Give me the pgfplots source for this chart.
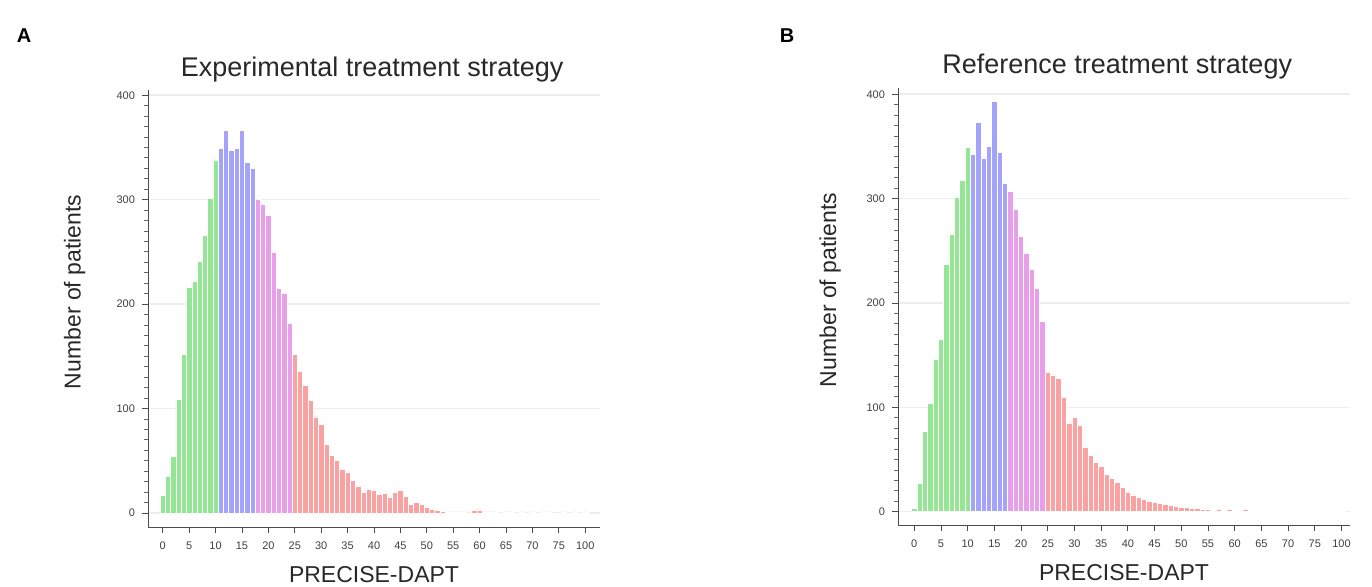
\documentclass[border=0pt]{standalone}
\usepackage{pgfplots}
\pgfplotsset{compat=1.18}
\usepackage{fontspec}
\setmainfont{Liberation Sans}

\definecolor{cgreen}{RGB}{148,230,148}
\definecolor{cblue}{RGB}{163,163,250}
\definecolor{cpink}{RGB}{232,158,232}
\definecolor{cred}{RGB}{250,162,162}
\definecolor{txt}{RGB}{40,40,40}

\pgfplotsset{
  hbar/.style={ybar, bar width=1, bar shift=0pt, draw=white, line width=0.3pt, fill=#1},
  panel/.style={
    scale only axis, width=226pt, height=218.5pt, anchor=south west,
    axis lines=left, axis line style={-, draw=black!70, line width=0.5pt},
    tick align=outside, major tick length=3pt, minor tick length=2pt,
    tick style={draw=black!70, line width=0.4pt},
    minor tick style={draw=black!60, line width=0.4pt},
    xtick={0,5,...,80},
    xticklabels={0,5,10,15,20,25,30,35,40,45,50,55,60,65,70,75,100},
    ytick={0,100,...,400}, minor y tick num=9,
    ymajorgrids, major grid style={draw=black!7, line width=0.8pt},
    /pgf/number format/assume math mode=true,
    tick label style={font=\fontsize{5.5}{6}\selectfont, text=black!75},
    xticklabel style={yshift=-1pt},
    label style={font=\fontsize{11.5}{13}\selectfont, text=txt},
    every axis title shift=0pt,
    title style={font=\fontsize{13.5}{15}\selectfont, text=txt},
    xlabel={PRECISE-DAPT},
    ylabel={Number of patients},
    xlabel style={at={(axis description cs:0.5,-0.108)}, anchor=center},
    clip=false,
  },
}

\begin{document}
\begin{tikzpicture}
\path[use as bounding box] (0,0) rectangle (686pt,293pt);
\node[font=\bfseries\fontsize{10}{12}\selectfont, text=black] at (12pt,275pt) {A};
\node[font=\bfseries\fontsize{10}{12}\selectfont, text=black] at (393.5pt,275pt) {B};

\begin{axis}[panel, at={(74pt,29.5pt)},
  xmin=-2.8, xmax=82.8, ymin=-13.4, ymax=405,
  title={Experimental treatment strategy},
  title style={at={(axis description cs:0.496,1.048)}, anchor=center},
  ylabel style={at={(axis description cs:-0.162,0.538)}, anchor=center},
]
\addplot[hbar=cgreen] coordinates {(0,17) (1,35) (2,54) (3,109) (4,152) (5,216) (6,222) (7,241) (8,266) (9,301) (10,338)};
\addplot[hbar=cblue] coordinates {(11,349) (12,366) (13,347) (14,349) (15,366) (16,336) (17,330)};
\addplot[hbar=cpink] coordinates {(18,300) (19,296) (20,285) (21,250) (22,215) (23,210) (24,182)};
\addplot[hbar=cred] coordinates {(25,152) (26,136) (27,122) (28,108) (29,92) (30,85) (31,66) (32,55) (33,50) (34,42)
  (35,39) (36,31) (37,26) (38,20) (39,23) (40,22) (41,18) (42,19) (43,15) (44,20) (45,22) (46,16) (47,8) (48,10) (49,8)
  (50,5) (51,4) (52,3) (53,2) (54,1) (55,1) (56,1) (57,1) (58,0) (59,3) (60,3) (61,1) (62,1) (63,1) (64,0)
  (65,1) (66,1) (67,0) (68,1) (69,0) (70,1) (71,0) (72,1) (73,1) (74,0) (75,0) (76,1) (77,0) (78,1) (79,0) (80,1)};
\end{axis}

\begin{axis}[panel, at={(449pt,30.5pt)},
  xmin=-3.05, xmax=81.6, ymin=-12.8, ymax=406,
  title={Reference treatment strategy},
  title style={at={(axis description cs:0.485,1.048)}, anchor=center},
  ylabel style={at={(axis description cs:-0.150,0.538)}, anchor=center},
]
\addplot[hbar=cgreen] coordinates {(0,3) (1,27) (2,77) (3,104) (4,146) (5,165) (6,237) (7,266) (8,301) (9,318) (10,349)};
\addplot[hbar=cblue] coordinates {(11,342) (12,373) (13,339) (14,350) (15,393) (16,344) (17,315)};
\addplot[hbar=cpink] coordinates {(18,307) (19,290) (20,264) (21,248) (22,232) (23,214) (24,182)};
\addplot[hbar=cred] coordinates {(25,134) (26,131) (27,128) (28,110) (29,85) (30,90) (31,83) (32,62) (33,54) (34,47)
  (35,43) (36,36) (37,32) (38,28) (39,23) (40,19) (41,16) (42,14) (43,12) (44,10) (45,9) (46,8) (47,7) (48,6) (49,5)
  (50,4) (51,4) (52,3) (53,3) (54,2) (55,2) (56,1) (57,2) (58,1) (59,2) (60,1) (61,1) (62,2) (63,1) (64,1)
  (65,0) (66,1) (67,0) (68,1) (69,1) (70,0) (71,1) (72,0) (73,1) (74,0) (75,1) (76,0) (77,1) (78,0) (79,0) (80,1)};
\end{axis}
\end{tikzpicture}
\end{document}
